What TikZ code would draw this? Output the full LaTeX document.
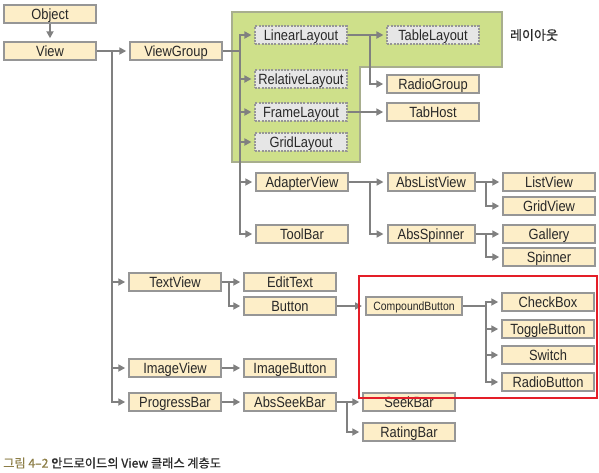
\documentclass[tikz,border=0pt]{standalone}
\usepackage{fontspec}
\setmainfont{Liberation Sans}
\newfontfamily\boxfont[FakeStretch=0.87]{Liberation Sans}
\newfontfamily\kfont[FakeBold=0.6]{Noto Sans CJK KR}
\usetikzlibrary{arrows.meta, calc}
\definecolor{boxfill}{RGB}{253,238,200}
\definecolor{boxline}{RGB}{150,150,150}
\definecolor{layfill}{RGB}{230,230,230}
\definecolor{groupfill}{RGB}{206,224,138}
\definecolor{groupline}{RGB}{168,174,142}
\definecolor{wirecol}{RGB}{128,128,128}
\definecolor{hilite}{RGB}{228,30,40}
\definecolor{capcol}{RGB}{140,125,70}
\definecolor{ink}{RGB}{40,40,40}

\begin{document}
\begin{tikzpicture}[
    x=1pt, y=-1pt,
    cls/.style={rectangle, draw=boxline, fill=boxfill, line width=2pt, minimum width=91.5pt, minimum height=17.5pt, inner sep=0pt, text height=10.5pt, text depth=0pt, text=ink, font=\boxfont\fontsize{14.8}{16}\selectfont},
    lay/.style={cls, fill=layfill, dash pattern=on 2pt off 1.2pt, line width=1.6pt},
    group/.style={fill=groupfill, draw=groupline, line width=1.6pt},
    link/.style={line width=2.2pt, draw=wirecol},
    arr/.style={link, -{Triangle[length=7pt, width=7pt]}, shorten >=3pt},
    hibox/.style={draw=hilite, line width=1.8pt}
]
    \useasboundingbox (0,0) rectangle (599,472);

    % layout area
    \draw[group] (232,12) -- (502,12) -- (502,67) -- (360,67) -- (360,162) -- (232,162) -- cycle;
    \node[text=ink, font=\kfont\fontsize{13}{15}\selectfont] (laylabel) at (534,35) {레이아웃};

    \node[cls] (object) at (50,14) {Object};
    \node[cls] (view) at (50,51) {View};
    \node[cls] (viewgroup) at (176,51) {ViewGroup};

    \node[lay] (linear) at (301,35) {LinearLayout};
    \node[lay] (table) at (433,35) {TableLayout};
    \node[lay] (relative) at (301,79) {RelativeLayout};
    \node[cls] (radiogroup) at (433,84) {RadioGroup};
    \node[lay] (frame) at (301,112) {FrameLayout};
    \node[cls] (tabhost) at (433,112) {TabHost};
    \node[lay] (grid) at (301,142) {GridLayout};

    \node[cls] (adapter) at (302,182) {AdapterView};
    \node[cls] (toolbar) at (302,234) {ToolBar};
    \node[cls, minimum width=87pt] (abslist) at (431,182) {AbsListView};
    \node[cls, minimum width=87pt] (absspinner) at (431,234) {AbsSpinner};
    \node[cls] (listview) at (549,182) {ListView};
    \node[cls] (gridview) at (549,206) {GridView};
    \node[cls] (gallery) at (549,234) {Gallery};
    \node[cls] (spinner) at (549,257) {Spinner};

    \node[cls] (textview) at (175,282) {TextView};
    \node[cls] (edittext) at (290,282) {EditText};
    \node[cls] (button) at (290,306) {Button};
    \node[cls, minimum width=96pt, text height=8.6pt, font=\boxfont\fontsize{12}{14}\selectfont] (compound) at (414,306) {CompoundButton};
    \node[cls] (checkbox) at (548,302) {CheckBox};
    \node[cls] (toggle) at (548,329) {ToggleButton};
    \node[cls] (switch) at (548,355) {Switch};
    \node[cls] (radiobutton) at (548,382) {RadioButton};

    \node[cls] (imageview) at (175,368) {ImageView};
    \node[cls] (imagebutton) at (290,368) {ImageButton};
    \node[cls] (progressbar) at (175,402) {ProgressBar};
    \node[cls] (absseekbar) at (290,402) {AbsSeekBar};
    \node[cls] (seekbar) at (409,402) {SeekBar};
    \node[cls] (ratingbar) at (409,432) {RatingBar};

    % branch points
    \coordinate (vtrunk) at (112,51);
    \coordinate (gtrunk) at (240,51);
    \coordinate (ltrunk) at (370,35);
    \coordinate (atrunk) at (370,182);
    \coordinate (lvtrunk) at (486,182);
    \coordinate (sptrunk) at (486,234);
    \coordinate (ttrunk) at (229,282);
    \coordinate (ctrunk) at (486,306);
    \coordinate (strunk) at (347,402);

    \draw[arr] (object) -- (view);
    \draw[arr] (view) -- (viewgroup);
    \draw[arr] (vtrunk) |- (textview);
    \draw[arr] (vtrunk) |- (imageview);
    \draw[arr] (vtrunk) |- (progressbar);

    \draw[link] (viewgroup) -- (gtrunk);
    \draw[arr] (gtrunk) |- (linear);
    \draw[arr] (gtrunk) |- (relative);
    \draw[arr] (gtrunk) |- (frame);
    \draw[arr] (gtrunk) |- (grid);
    \draw[arr] (gtrunk) |- (adapter);
    \draw[arr] (gtrunk) |- (toolbar);

    \draw[arr] (linear) -- (table);
    \draw[arr] (ltrunk) |- (radiogroup);
    \draw[arr] (frame) -- (tabhost);

    \draw[arr] (adapter) -- (abslist);
    \draw[arr] (atrunk) |- (absspinner);
    \draw[arr] (abslist) -- (listview);
    \draw[arr] (lvtrunk) |- (gridview);
    \draw[arr] (absspinner) -- (gallery);
    \draw[arr] (sptrunk) |- (spinner);

    \draw[arr] (textview) -- (edittext);
    \draw[arr] (ttrunk) |- (button);
    \draw[arr] (button) -- (compound);
    \draw[link] (compound) -- (ctrunk);
    \draw[arr] (ctrunk) |- (checkbox);
    \draw[arr] (ctrunk) |- (toggle);
    \draw[arr] (ctrunk) |- (switch);
    \draw[arr] (ctrunk) |- (radiobutton);

    \draw[arr] (imageview) -- (imagebutton);
    \draw[arr] (progressbar) -- (absseekbar);
    \draw[arr] (absseekbar) -- (seekbar);
    \draw[arr] (strunk) |- (ratingbar);

    \draw[hibox] (359,276) rectangle (597,398);

    \node[anchor=west, inner sep=0pt, text=ink, font=\kfont\fontsize{12.2}{14}\selectfont] (caption) at (3,463) {\textcolor{capcol}{그림 4–2} 안드로이드의 View 클래스 계층도};
\end{tikzpicture}
\end{document}
